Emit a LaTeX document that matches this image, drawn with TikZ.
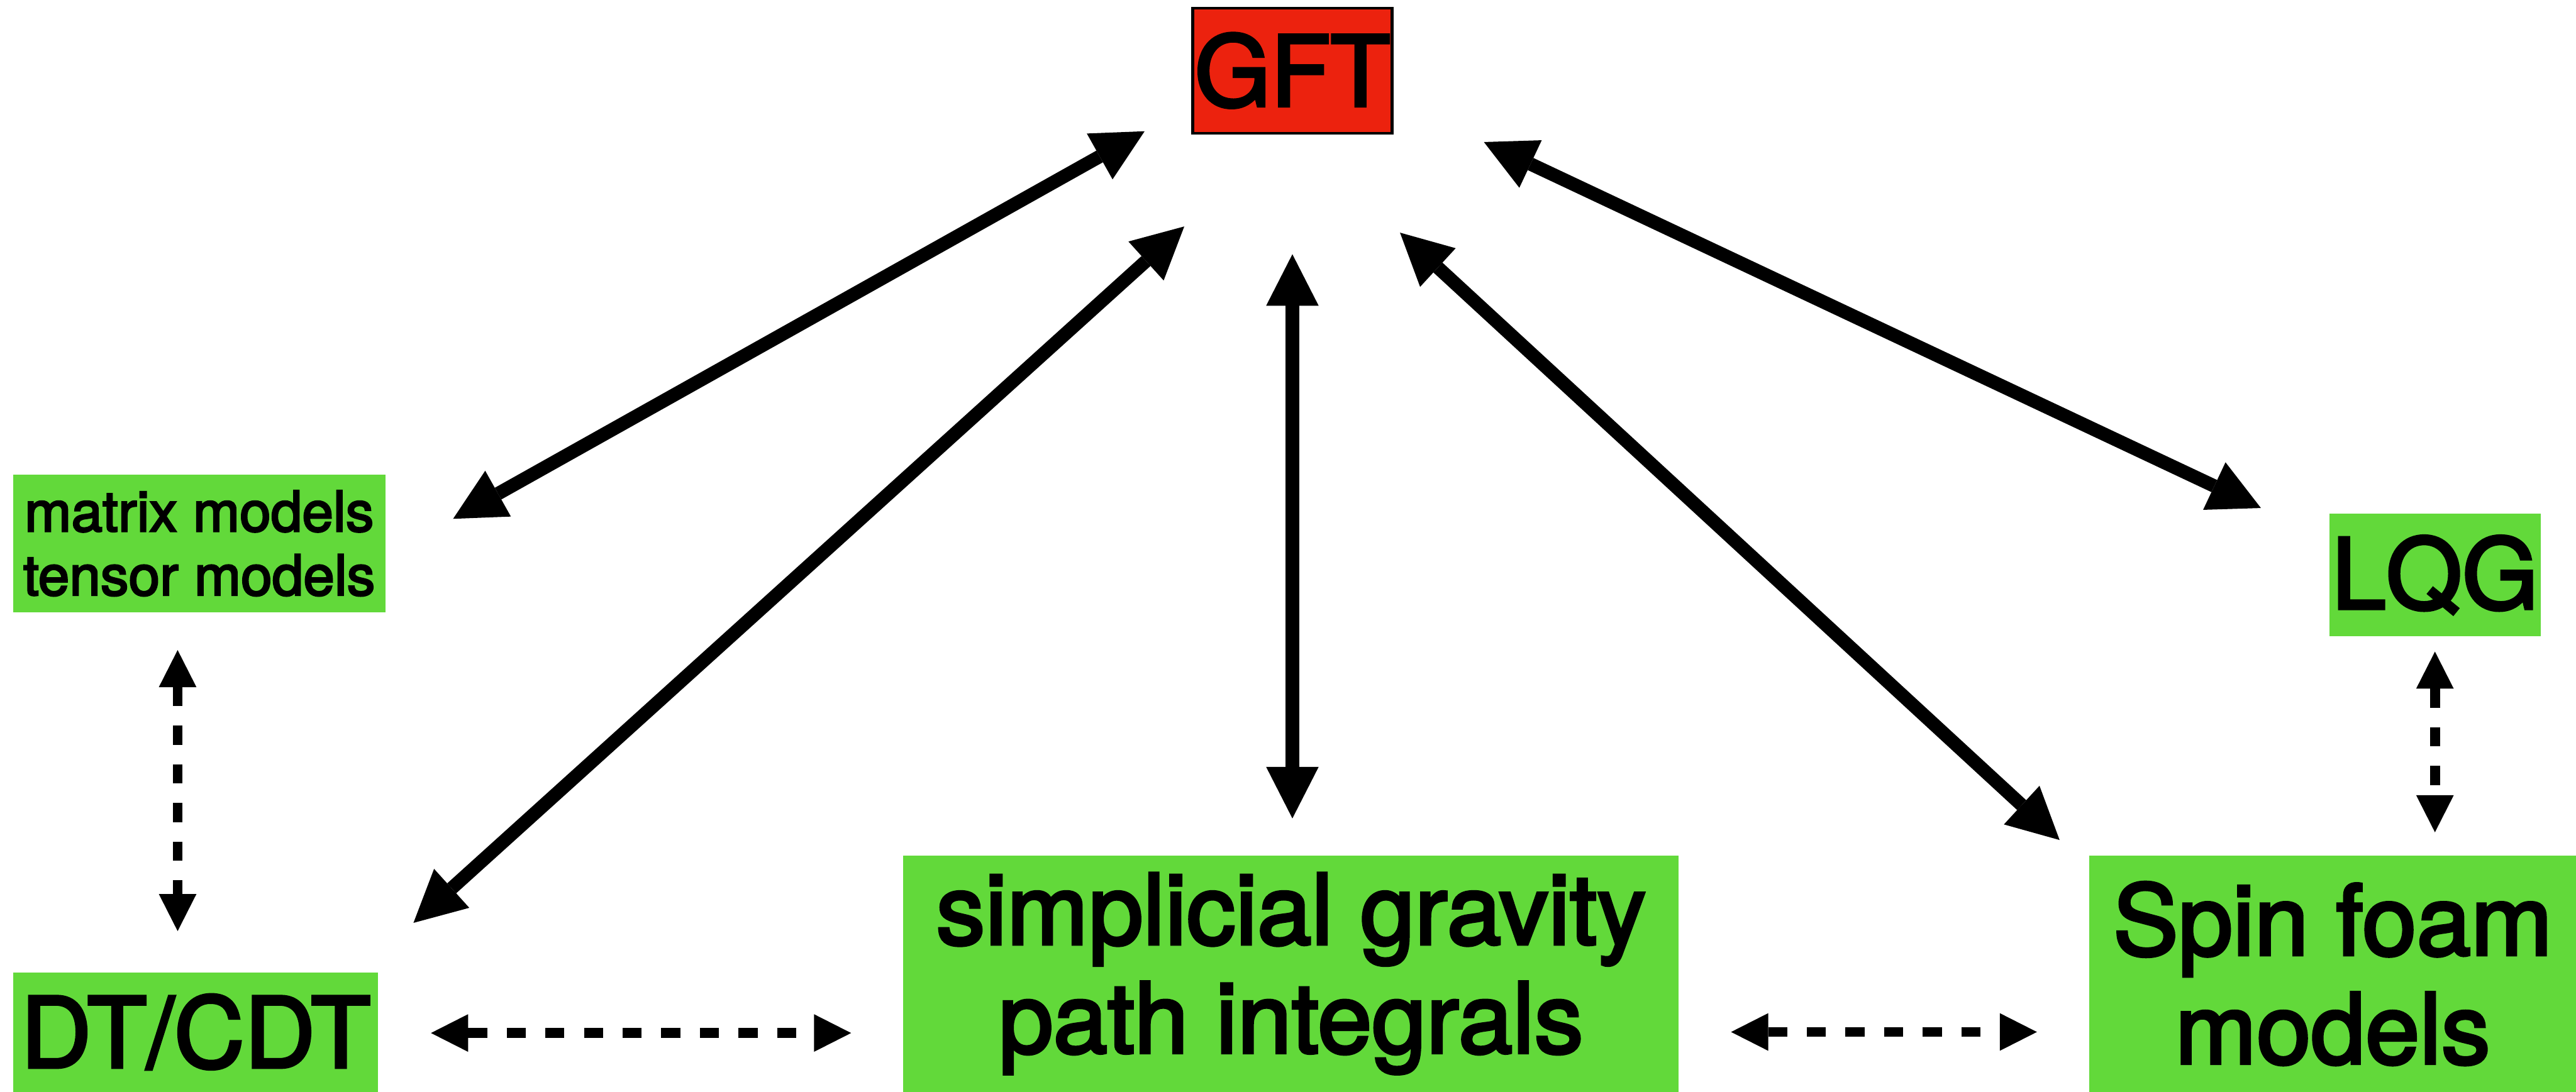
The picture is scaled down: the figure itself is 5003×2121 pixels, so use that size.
\documentclass[tikz,border=0pt]{standalone}
\usepackage{fontspec}
\setmainfont{TeX Gyre Heros}
\newfontface\medfont{TeX Gyre Heros}[FakeBold=3]
\usetikzlibrary{arrows.meta}
\definecolor{gftred}{RGB}{236,34,14}
\definecolor{boxgreen}{RGB}{98,217,58}
\begin{document}
\begin{tikzpicture}[x=0.01cm,y=-0.01cm,
  solidarrow/.style={line width=0.26cm,
    {Triangle[length=1cm,width=1.02cm,line width=0pt]}-{Triangle[length=1cm,width=1.02cm,line width=0pt]}},
  dasharrow/.style={line width=0.19cm, dash pattern=on 0.37cm off 0.38cm,
    {Triangle[length=0.72cm,width=0.73cm,line width=0pt]}-{Triangle[length=0.72cm,width=0.73cm,line width=0pt]}},
  greenbox/.style={rectangle, fill=boxgreen, inner sep=0pt, outer sep=0pt, align=center},
  bigtext/.style={font=\medfont\fontsize{54}{60}\selectfont},
  smalltext/.style={font=\medfont\fontsize{31}{35.3}\selectfont}]
\useasboundingbox (0,0) rectangle (5003,2121);
% boxes
\node[rectangle, draw=black, line width=0.05cm, fill=gftred, inner sep=0pt,
      minimum width=3.87cm, minimum height=2.43cm, bigtext] (gft) at (2510,137) {GFT};
\node[greenbox, smalltext, minimum width=7.22cm, minimum height=2.67cm] (mm) at (387,1055.5)
      {matrix models\\tensor models};
\node[greenbox, bigtext, minimum width=4.10cm, minimum height=2.38cm] (lqg) at (4729,1117) {LQG};
\node[greenbox, bigtext, minimum width=7.08cm, minimum height=2.32cm] (dt) at (380,2005) {DT/CDT};
\node[greenbox, bigtext, minimum width=15.05cm, minimum height=4.59cm] (simp) at (2507.5,1891.5)
      {simplicial gravity\\path integrals};
\node[greenbox, bigtext, minimum width=9.45cm, minimum height=4.59cm] (spin) at (4530.5,1891.5)
      {Spin foam\\models};
% connector end points
\coordinate (mm-g) at (880,1008);   \coordinate (gft-mm) at (2223,255);
\coordinate (dt-g) at (803,1793);   \coordinate (gft-dt) at (2300,440);
\coordinate (simp-g) at (2510,1590); \coordinate (gft-simp) at (2510,494);
\coordinate (spin-g) at (4000,1632); \coordinate (gft-spin) at (2719,452);
\coordinate (lqg-g) at (4391,987);  \coordinate (gft-lqg) at (2882,276);
\coordinate (mm-dt) at (345,1263);  \coordinate (dt-mm) at (345,1809);
\coordinate (dt-simp) at (837,2007); \coordinate (simp-dt) at (1653,2007);
\coordinate (simp-spin) at (3362,2005); \coordinate (spin-simp) at (3956,2005);
\coordinate (lqg-spin) at (4729,1266); \coordinate (spin-lqg) at (4729,1617);
% solid connectors
\draw[solidarrow] (mm-g) -- (gft-mm);
\draw[solidarrow] (dt-g) -- (gft-dt);
\draw[solidarrow] (simp-g) -- (gft-simp);
\draw[solidarrow] (spin-g) -- (gft-spin);
\draw[solidarrow] (lqg-g) -- (gft-lqg);
% dashed connectors
\draw[dasharrow] (mm-dt) -- (dt-mm);
\draw[dasharrow] (dt-simp) -- (simp-dt);
\draw[dasharrow] (simp-spin) -- (spin-simp);
\draw[dasharrow] (lqg-spin) -- (spin-lqg);
\end{tikzpicture}
\end{document}
